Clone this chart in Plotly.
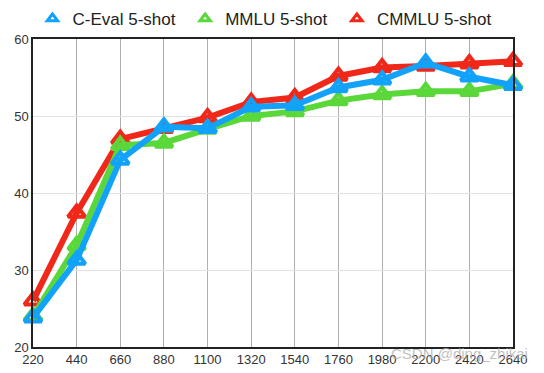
import plotly.graph_objects as go

steps = [220, 440, 660, 880, 1100, 1320, 1540, 1760, 1980, 2200, 2420, 2640]
ceval = [23.8, 31.3, 44.3, 48.6, 48.4, 51.2, 51.4, 53.7, 54.7, 56.9, 55.1, 54.0]
mmlu = [24.0, 33.2, 46.2, 46.5, 48.3, 50.0, 50.6, 52.0, 52.8, 53.2, 53.2, 54.2]
cmmlu = [26.0, 37.4, 47.0, 48.4, 49.8, 51.8, 52.4, 55.2, 56.3, 56.5, 56.8, 57.1]

series = [
    ("CMMLU 5-shot", cmmlu, "#F0281A", 3),
    ("MMLU 5-shot", mmlu, "#5AD83A", 2),
    ("C-Eval 5-shot", ceval, "#12A2FA", 1),
]

fig = go.Figure()
for name, vals, color, rank in series:
    fig.add_trace(go.Scatter(
        x=steps, y=vals, name=name, mode="lines+markers",
        line=dict(color=color, width=6),
        marker=dict(symbol="triangle-up-open", size=15, color=color,
                    line=dict(width=4, color=color)),
        showlegend=False, cliponaxis=False,
    ))
for name, vals, color, rank in series:
    fig.add_trace(go.Scatter(
        x=[None], y=[None], name=name + " ", mode="markers",
        marker=dict(symbol="triangle-up-open", size=9, color=color,
                    line=dict(width=3, color=color)),
        legendrank=rank,
    ))

fig.update_layout(
    width=544, height=373,
    margin=dict(l=25, r=39, t=31, b=34, autoexpand=False),
    paper_bgcolor="white", plot_bgcolor="white",
    font=dict(family="Liberation Sans, Arial, sans-serif", color="#333"),
    legend=dict(orientation="h", x=0.476, xanchor="center",
                xref="container", yref="container",
                y=0.9705, yanchor="middle",
                font=dict(size=17, color="#222"), itemwidth=30,
                traceorder="normal"),
    showlegend=True,
)
fig.update_xaxes(
    range=[220, 2640], tickvals=steps, ticktext=[str(s) for s in steps],
    showgrid=True, gridcolor="#b0b0b0", gridwidth=1,
    showline=True, linecolor="#222", linewidth=1.5, mirror=True,
    ticks="", tickfont=dict(size=13, color="#333"), zeroline=False,
)
fig.update_yaxes(
    range=[20, 60], dtick=10,
    showgrid=True, gridcolor="#e2e2e2", gridwidth=1,
    showline=True, linecolor="#222", linewidth=1.5, mirror=True,
    ticks="", tickfont=dict(size=13, color="#333"), zeroline=False,
)
fig.add_annotation(
    text="CSDN @ding_zhikai", xref="paper", yref="paper",
    x=1.035, y=0.012, xanchor="right", yanchor="top", showarrow=False,
    font=dict(size=15, color="rgba(170,170,170,0.75)"),
)
fig.write_html("out.html")
